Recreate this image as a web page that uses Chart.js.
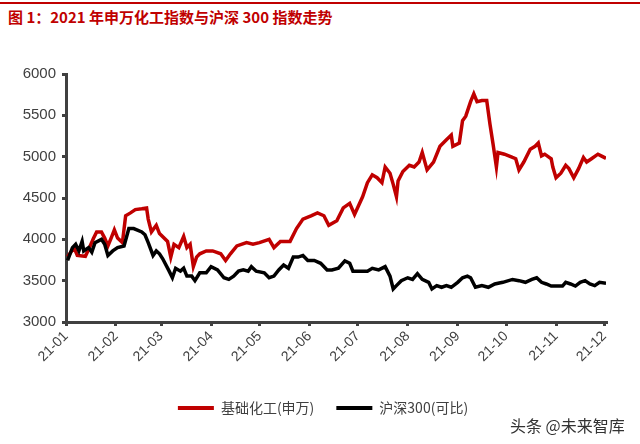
<!DOCTYPE html>
<html>
<head>
<meta charset="utf-8">
<script src="https://cdn.jsdelivr.net/npm/chart.js@4.4.1/dist/chart.umd.min.js"></script>
<style>
    html, body { margin: 0; padding: 0; background: #fff; }
    #wrap { position: relative; width: 640px; height: 444px; overflow: hidden; }
    #topline { position: absolute; left: 0; top: 2px; width: 640px; height: 2px; background: #c00000; }
    #title { position: absolute; left: 8px; top: 6px; font: bold 15px "Noto Sans CJK SC", sans-serif; color: #c00000; }
    #mark { position: absolute; left: 510px; top: 413px; font: 16px "Noto Sans CJK SC", sans-serif; color: #333; }
    canvas { position: absolute; left: 0; top: 0; }
</style>
</head>
<body>
<div id="wrap">
    <div id="topline"></div>
    <div id="title">图 1：2021 年申万化工指数与沪深 300 指数走势</div>
    <canvas id="chart" width="640" height="444"></canvas>
    <div id="mark">头条 @未来智库</div>
</div>
<script>
// 基础化工(申万)
const chemDates = ['01-02','01-06','01-08','01-13','01-16','01-18','01-20','01-23','01-25','01-27',
    '01-29','01-31','02-02','02-05','02-07','02-10','02-13','02-17','02-20','02-21',
    '02-23','02-26','02-28','03-05','03-07','03-09','03-12','03-15','03-17','03-19',
    '03-21','03-23','03-25','03-29','04-02','04-07','04-10','04-13','04-17','04-23',
    '04-27','05-01','05-07','05-10','05-14','05-20','05-24','05-28','06-02','06-06',
    '06-10','06-13','06-18','06-22','06-26','06-29','07-04','07-07','07-10','07-13',
    '07-16','07-18','07-21','07-23','07-25','07-26','07-29','08-02','08-05','08-08',
    '08-10','08-13','08-17','08-21','08-25','08-28','08-29','09-02','09-04','09-06',
    '09-09','09-11','09-13','09-16','09-19','09-21','09-23','09-25','09-26','09-30',
    '10-05','10-07','10-09','10-12','10-16','10-19','10-21','10-23','10-25','10-29',
    '10-30','11-01','11-04','11-07','11-09','11-12','11-15','11-18','11-20','11-23',
    '11-27','11-29','12-02'];
const chemValues = [3790,3900,3805,3795,3920,4010,4090,4090,4015,3920,
    4015,4115,4015,3960,4285,4320,4360,4370,4380,4245,
    4090,4170,4070,3975,3785,3940,3900,4035,3900,3940,
    3670,3785,3825,3860,3860,3825,3745,3825,3920,3960,
    3940,3960,4000,3900,3975,3975,4130,4245,4285,4320,
    4285,4170,4225,4380,4435,4300,4515,4685,4780,4745,
    4685,4875,4800,4665,4515,4705,4820,4895,4875,4935,
    5050,4840,4935,5125,5205,5260,5125,5165,5435,5490,
    5665,5760,5665,5680,5680,5395,5145,4875,5050,5030,
    4990,4975,4840,4935,5090,5125,5165,5010,5030,4975,
    4875,4745,4800,4895,4855,4745,4855,4990,4935,4975,
    5030,5010,4980];

// 沪深300(可比)
const hsDates = ['01-02','01-05','01-07','01-09','01-11','01-12','01-15','01-17','01-19','01-23',
    '01-25','01-27','01-30','02-02','02-06','02-09','02-12','02-17','02-19','02-21',
    '02-24','02-26','02-28','03-02','03-06','03-08','03-10','03-13','03-15','03-17',
    '03-20','03-22','03-25','03-29','04-01','04-05','04-09','04-12','04-15','04-18',
    '04-21','04-24','04-26','04-29','05-04','05-07','05-10','05-13','05-16','05-19',
    '05-22','05-25','05-28','05-31','06-04','06-08','06-12','06-15','06-19','06-23',
    '06-26','06-28','07-03','07-07','07-10','07-14','07-18','07-21','07-23','07-25',
    '07-28','08-01','08-04','08-07','08-10','08-14','08-16','08-19','08-22','08-25',
    '08-28','09-01','09-04','09-07','09-09','09-12','09-16','09-20','09-24','09-29',
    '10-05','10-09','10-13','10-17','10-20','10-23','10-26','10-29','11-02','11-05',
    '11-07','11-10','11-13','11-16','11-19','11-22','11-25','11-28','12-02'];
const hsValues = [3745,3900,3940,3860,3975,3860,3900,3845,3960,4000,
    3940,3805,3860,3900,3920,4130,4130,4090,4055,3960,
    3805,3860,3825,3765,3615,3535,3650,3615,3650,3555,
    3555,3500,3595,3595,3670,3630,3535,3515,3555,3615,
    3630,3615,3670,3615,3595,3535,3555,3630,3690,3650,
    3785,3785,3805,3745,3745,3710,3630,3630,3650,3740,
    3710,3615,3615,3615,3650,3630,3670,3555,3400,3440,
    3500,3535,3515,3585,3515,3480,3400,3440,3420,3440,
    3420,3480,3535,3555,3535,3420,3440,3420,3460,3480,
    3515,3500,3480,3515,3535,3480,3460,3435,3435,3435,
    3480,3460,3435,3480,3500,3460,3440,3480,3470];

const monthTicks = ['01-01','02-01','03-01','04-01','05-01','06-01','07-01','08-01','09-01','10-01','11-01','12-01'];
const monthLabels = ['21-01','21-02','21-03','21-04','21-05','21-06','21-07','21-08','21-09','21-10','21-11','21-12'];
const yTicks = [3000, 3500, 4000, 4500, 5000, 5500, 6000];

function dayOfYear(md) {
    let p = md.split('-');
    return (Date.UTC(2021, +p[0] - 1, +p[1]) - Date.UTC(2021, 0, 1)) / 86400000;
}

function points(dates, values) {
    return dates.map((d, i) => ({ x: dayOfYear(d), y: values[i] }));
}

const axisColor = '#404040';
const latin = '"Liberation Sans", Arial, sans-serif';

// legend is centred on the page, not on the padded box
const shiftLegend = {
    id: 'shiftLegend',
    afterLayout(chart) {
        chart.legend.left += 20;
        chart.legend.right += 20;
    }
};

new Chart(document.getElementById('chart'), {
    type: 'line',
    data: {
        datasets: [{
                label: '基础化工(申万)',
                data: points(chemDates, chemValues),
                borderColor: '#c00000',
                backgroundColor: '#c00000',
                borderWidth: 3.5,
                pointRadius: 0,
                tension: 0,
                order: 1
            }, {
                label: '沪深300(可比)',
                data: points(hsDates, hsValues),
                borderColor: '#000000',
                backgroundColor: '#000000',
                borderWidth: 3.5,
                pointRadius: 0,
                tension: 0,
                order: 0
            }]
    },
    options: {
        responsive: false,
        animation: false,
        layout: {
            padding: { top: 74, right: 34, bottom: 19, left: 0 }
        },
        plugins: {
            tooltip: { enabled: false },
            legend: {
                position: 'bottom',
                labels: {
                    boxWidth: 36,
                    boxHeight: 4,
                    padding: 22,
                    color: axisColor,
                    font: { size: 14, family: '"Noto Sans CJK SC", sans-serif' },
                    sort: (a, b) => a.datasetIndex - b.datasetIndex,
                    generateLabels: chart => Chart.defaults.plugins.legend.labels.generateLabels(chart)
                        .map(l => Object.assign(l, { lineWidth: 0 }))
                }
            }
        },
        scales: {
            x: {
                type: 'linear',
                min: 0,
                max: 335,
                afterBuildTicks: s => { s.ticks = monthTicks.map(d => ({ value: dayOfYear(d) })); },
                afterFit: s => { s.height = 57; },
                ticks: {
                    callback: (v, i) => monthLabels[i],
                    minRotation: 45,
                    maxRotation: 45,
                    autoSkip: false,
                    color: axisColor,
                    padding: 2,
                    font: { size: 14, family: latin }
                },
                grid: { drawOnChartArea: false, drawTicks: true, tickLength: 4, color: axisColor, lineWidth: 3 },
                border: { color: axisColor, width: 3 }
            },
            y: {
                min: 3000,
                max: 6000,
                afterBuildTicks: s => { s.ticks = yTicks.map(v => ({ value: v })); },
                afterFit: s => { s.width = 66; },
                ticks: {
                    callback: v => String(v),
                    color: axisColor,
                    padding: 6,
                    font: { size: 15, family: latin }
                },
                grid: { drawOnChartArea: false, drawTicks: true, tickLength: 4, color: axisColor, lineWidth: 3 },
                border: { color: axisColor, width: 3 }
            }
        }
    },
    plugins: [shiftLegend]
});
</script>
</body>
</html>
